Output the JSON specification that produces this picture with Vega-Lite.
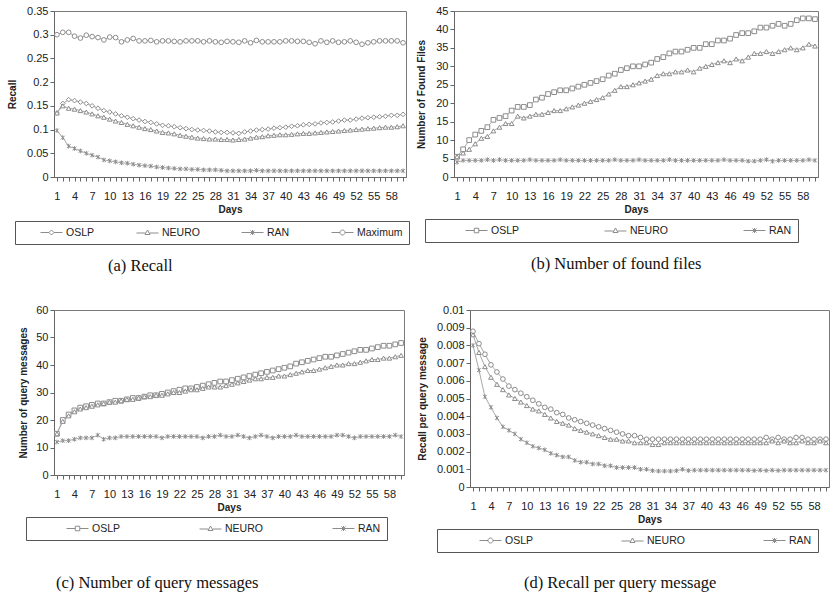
{
"$schema": "https://vega.github.io/schema/vega-lite/v6.json",
"padding": {"left": 7, "top": 4, "right": 2, "bottom": 2},
"background": "white",
"datasets": {
"a": [
{"d":1,"s":"OSLP","v":0.135},{"d":2,"s":"OSLP","v":0.155},{"d":3,"s":"OSLP","v":0.163},{"d":4,"s":"OSLP","v":0.161},{"d":5,"s":"OSLP","v":0.158},{"d":6,"s":"OSLP","v":0.155},{"d":7,"s":"OSLP","v":0.150},{"d":8,"s":"OSLP","v":0.145},{"d":9,"s":"OSLP","v":0.140},{"d":10,"s":"OSLP","v":0.137},
{"d":11,"s":"OSLP","v":0.133},{"d":12,"s":"OSLP","v":0.129},{"d":13,"s":"OSLP","v":0.126},{"d":14,"s":"OSLP","v":0.123},{"d":15,"s":"OSLP","v":0.120},{"d":16,"s":"OSLP","v":0.117},{"d":17,"s":"OSLP","v":0.115},{"d":18,"s":"OSLP","v":0.112},{"d":19,"s":"OSLP","v":0.109},{"d":20,"s":"OSLP","v":0.108},
{"d":21,"s":"OSLP","v":0.106},{"d":22,"s":"OSLP","v":0.104},{"d":23,"s":"OSLP","v":0.102},{"d":24,"s":"OSLP","v":0.100},{"d":25,"s":"OSLP","v":0.099},{"d":26,"s":"OSLP","v":0.098},{"d":27,"s":"OSLP","v":0.097},{"d":28,"s":"OSLP","v":0.095},{"d":29,"s":"OSLP","v":0.094},{"d":30,"s":"OSLP","v":0.094},
{"d":31,"s":"OSLP","v":0.093},{"d":32,"s":"OSLP","v":0.092},{"d":33,"s":"OSLP","v":0.095},{"d":34,"s":"OSLP","v":0.097},{"d":35,"s":"OSLP","v":0.099},{"d":36,"s":"OSLP","v":0.100},{"d":37,"s":"OSLP","v":0.101},{"d":38,"s":"OSLP","v":0.103},{"d":39,"s":"OSLP","v":0.104},{"d":40,"s":"OSLP","v":0.105},
{"d":41,"s":"OSLP","v":0.107},{"d":42,"s":"OSLP","v":0.108},{"d":43,"s":"OSLP","v":0.110},{"d":44,"s":"OSLP","v":0.111},{"d":45,"s":"OSLP","v":0.112},{"d":46,"s":"OSLP","v":0.114},{"d":47,"s":"OSLP","v":0.115},{"d":48,"s":"OSLP","v":0.116},{"d":49,"s":"OSLP","v":0.118},{"d":50,"s":"OSLP","v":0.120},
{"d":51,"s":"OSLP","v":0.120},{"d":52,"s":"OSLP","v":0.122},{"d":53,"s":"OSLP","v":0.124},{"d":54,"s":"OSLP","v":0.125},{"d":55,"s":"OSLP","v":0.126},{"d":56,"s":"OSLP","v":0.127},{"d":57,"s":"OSLP","v":0.128},{"d":58,"s":"OSLP","v":0.130},{"d":59,"s":"OSLP","v":0.130},{"d":60,"s":"OSLP","v":0.132},
{"d":1,"s":"NEURO","v":0.135},{"d":2,"s":"NEURO","v":0.150},{"d":3,"s":"NEURO","v":0.145},{"d":4,"s":"NEURO","v":0.143},{"d":5,"s":"NEURO","v":0.140},{"d":6,"s":"NEURO","v":0.137},{"d":7,"s":"NEURO","v":0.133},{"d":8,"s":"NEURO","v":0.129},{"d":9,"s":"NEURO","v":0.126},{"d":10,"s":"NEURO","v":0.122},
{"d":11,"s":"NEURO","v":0.118},{"d":12,"s":"NEURO","v":0.115},{"d":13,"s":"NEURO","v":0.111},{"d":14,"s":"NEURO","v":0.108},{"d":15,"s":"NEURO","v":0.105},{"d":16,"s":"NEURO","v":0.102},{"d":17,"s":"NEURO","v":0.100},{"d":18,"s":"NEURO","v":0.097},{"d":19,"s":"NEURO","v":0.094},{"d":20,"s":"NEURO","v":0.093},
{"d":21,"s":"NEURO","v":0.091},{"d":22,"s":"NEURO","v":0.088},{"d":23,"s":"NEURO","v":0.086},{"d":24,"s":"NEURO","v":0.084},{"d":25,"s":"NEURO","v":0.082},{"d":26,"s":"NEURO","v":0.081},{"d":27,"s":"NEURO","v":0.080},{"d":28,"s":"NEURO","v":0.080},{"d":29,"s":"NEURO","v":0.079},{"d":30,"s":"NEURO","v":0.079},
{"d":31,"s":"NEURO","v":0.078},{"d":32,"s":"NEURO","v":0.079},{"d":33,"s":"NEURO","v":0.080},{"d":34,"s":"NEURO","v":0.082},{"d":35,"s":"NEURO","v":0.084},{"d":36,"s":"NEURO","v":0.085},{"d":37,"s":"NEURO","v":0.087},{"d":38,"s":"NEURO","v":0.088},{"d":39,"s":"NEURO","v":0.089},{"d":40,"s":"NEURO","v":0.089},
{"d":41,"s":"NEURO","v":0.090},{"d":42,"s":"NEURO","v":0.091},{"d":43,"s":"NEURO","v":0.092},{"d":44,"s":"NEURO","v":0.092},{"d":45,"s":"NEURO","v":0.093},{"d":46,"s":"NEURO","v":0.094},{"d":47,"s":"NEURO","v":0.095},{"d":48,"s":"NEURO","v":0.096},{"d":49,"s":"NEURO","v":0.097},{"d":50,"s":"NEURO","v":0.098},
{"d":51,"s":"NEURO","v":0.099},{"d":52,"s":"NEURO","v":0.100},{"d":53,"s":"NEURO","v":0.101},{"d":54,"s":"NEURO","v":0.102},{"d":55,"s":"NEURO","v":0.103},{"d":56,"s":"NEURO","v":0.104},{"d":57,"s":"NEURO","v":0.105},{"d":58,"s":"NEURO","v":0.105},{"d":59,"s":"NEURO","v":0.106},{"d":60,"s":"NEURO","v":0.108},
{"d":1,"s":"RAN","v":0.098},{"d":2,"s":"RAN","v":0.083},{"d":3,"s":"RAN","v":0.065},{"d":4,"s":"RAN","v":0.060},{"d":5,"s":"RAN","v":0.055},{"d":6,"s":"RAN","v":0.050},{"d":7,"s":"RAN","v":0.046},{"d":8,"s":"RAN","v":0.042},{"d":9,"s":"RAN","v":0.036},{"d":10,"s":"RAN","v":0.034},
{"d":11,"s":"RAN","v":0.032},{"d":12,"s":"RAN","v":0.030},{"d":13,"s":"RAN","v":0.029},{"d":14,"s":"RAN","v":0.027},{"d":15,"s":"RAN","v":0.025},{"d":16,"s":"RAN","v":0.024},{"d":17,"s":"RAN","v":0.023},{"d":18,"s":"RAN","v":0.021},{"d":19,"s":"RAN","v":0.020},{"d":20,"s":"RAN","v":0.019},
{"d":21,"s":"RAN","v":0.018},{"d":22,"s":"RAN","v":0.017},{"d":23,"s":"RAN","v":0.017},{"d":24,"s":"RAN","v":0.016},{"d":25,"s":"RAN","v":0.016},{"d":26,"s":"RAN","v":0.015},{"d":27,"s":"RAN","v":0.015},{"d":28,"s":"RAN","v":0.015},{"d":29,"s":"RAN","v":0.014},{"d":30,"s":"RAN","v":0.013},
{"d":31,"s":"RAN","v":0.013},{"d":32,"s":"RAN","v":0.013},{"d":33,"s":"RAN","v":0.013},{"d":34,"s":"RAN","v":0.013},{"d":35,"s":"RAN","v":0.014},{"d":36,"s":"RAN","v":0.013},{"d":37,"s":"RAN","v":0.013},{"d":38,"s":"RAN","v":0.013},{"d":39,"s":"RAN","v":0.013},{"d":40,"s":"RAN","v":0.013},
{"d":41,"s":"RAN","v":0.013},{"d":42,"s":"RAN","v":0.013},{"d":43,"s":"RAN","v":0.013},{"d":44,"s":"RAN","v":0.013},{"d":45,"s":"RAN","v":0.013},{"d":46,"s":"RAN","v":0.013},{"d":47,"s":"RAN","v":0.013},{"d":48,"s":"RAN","v":0.013},{"d":49,"s":"RAN","v":0.013},{"d":50,"s":"RAN","v":0.013},
{"d":51,"s":"RAN","v":0.013},{"d":52,"s":"RAN","v":0.013},{"d":53,"s":"RAN","v":0.013},{"d":54,"s":"RAN","v":0.013},{"d":55,"s":"RAN","v":0.013},{"d":56,"s":"RAN","v":0.013},{"d":57,"s":"RAN","v":0.013},{"d":58,"s":"RAN","v":0.013},{"d":59,"s":"RAN","v":0.013},{"d":60,"s":"RAN","v":0.013},
{"d":1,"s":"Maximum","v":0.300},{"d":2,"s":"Maximum","v":0.305},{"d":3,"s":"Maximum","v":0.305},{"d":4,"s":"Maximum","v":0.297},{"d":5,"s":"Maximum","v":0.293},{"d":6,"s":"Maximum","v":0.299},{"d":7,"s":"Maximum","v":0.296},{"d":8,"s":"Maximum","v":0.294},{"d":9,"s":"Maximum","v":0.289},{"d":10,"s":"Maximum","v":0.295},
{"d":11,"s":"Maximum","v":0.294},{"d":12,"s":"Maximum","v":0.285},{"d":13,"s":"Maximum","v":0.289},{"d":14,"s":"Maximum","v":0.292},{"d":15,"s":"Maximum","v":0.287},{"d":16,"s":"Maximum","v":0.287},{"d":17,"s":"Maximum","v":0.288},{"d":18,"s":"Maximum","v":0.285},{"d":19,"s":"Maximum","v":0.287},{"d":20,"s":"Maximum","v":0.287},
{"d":21,"s":"Maximum","v":0.286},{"d":22,"s":"Maximum","v":0.285},{"d":23,"s":"Maximum","v":0.287},{"d":24,"s":"Maximum","v":0.287},{"d":25,"s":"Maximum","v":0.287},{"d":26,"s":"Maximum","v":0.285},{"d":27,"s":"Maximum","v":0.287},{"d":28,"s":"Maximum","v":0.285},{"d":29,"s":"Maximum","v":0.284},{"d":30,"s":"Maximum","v":0.286},
{"d":31,"s":"Maximum","v":0.285},{"d":32,"s":"Maximum","v":0.284},{"d":33,"s":"Maximum","v":0.287},{"d":34,"s":"Maximum","v":0.283},{"d":35,"s":"Maximum","v":0.288},{"d":36,"s":"Maximum","v":0.285},{"d":37,"s":"Maximum","v":0.285},{"d":38,"s":"Maximum","v":0.285},{"d":39,"s":"Maximum","v":0.285},{"d":40,"s":"Maximum","v":0.287},
{"d":41,"s":"Maximum","v":0.287},{"d":42,"s":"Maximum","v":0.286},{"d":43,"s":"Maximum","v":0.286},{"d":44,"s":"Maximum","v":0.284},{"d":45,"s":"Maximum","v":0.281},{"d":46,"s":"Maximum","v":0.287},{"d":47,"s":"Maximum","v":0.284},{"d":48,"s":"Maximum","v":0.287},{"d":49,"s":"Maximum","v":0.284},{"d":50,"s":"Maximum","v":0.285},
{"d":51,"s":"Maximum","v":0.287},{"d":52,"s":"Maximum","v":0.284},{"d":53,"s":"Maximum","v":0.280},{"d":54,"s":"Maximum","v":0.283},{"d":55,"s":"Maximum","v":0.285},{"d":56,"s":"Maximum","v":0.287},{"d":57,"s":"Maximum","v":0.287},{"d":58,"s":"Maximum","v":0.287},{"d":59,"s":"Maximum","v":0.287},{"d":60,"s":"Maximum","v":0.283}
],
"b": [
{"d":1,"s":"OSLP","v":5.5},{"d":2,"s":"OSLP","v":7.5},{"d":3,"s":"OSLP","v":10},{"d":4,"s":"OSLP","v":11.5},{"d":5,"s":"OSLP","v":12.5},{"d":6,"s":"OSLP","v":13.5},{"d":7,"s":"OSLP","v":15.5},{"d":8,"s":"OSLP","v":16},{"d":9,"s":"OSLP","v":16.5},{"d":10,"s":"OSLP","v":18},
{"d":11,"s":"OSLP","v":19},{"d":12,"s":"OSLP","v":19},{"d":13,"s":"OSLP","v":19.5},{"d":14,"s":"OSLP","v":21},{"d":15,"s":"OSLP","v":21.5},{"d":16,"s":"OSLP","v":22.5},{"d":17,"s":"OSLP","v":23},{"d":18,"s":"OSLP","v":23.5},{"d":19,"s":"OSLP","v":23.5},{"d":20,"s":"OSLP","v":24},
{"d":21,"s":"OSLP","v":24.5},{"d":22,"s":"OSLP","v":25},{"d":23,"s":"OSLP","v":25.5},{"d":24,"s":"OSLP","v":26},{"d":25,"s":"OSLP","v":26.5},{"d":26,"s":"OSLP","v":27.5},{"d":27,"s":"OSLP","v":28},{"d":28,"s":"OSLP","v":29},{"d":29,"s":"OSLP","v":29.5},{"d":30,"s":"OSLP","v":30},
{"d":31,"s":"OSLP","v":30},{"d":32,"s":"OSLP","v":30.5},{"d":33,"s":"OSLP","v":31},{"d":34,"s":"OSLP","v":32},{"d":35,"s":"OSLP","v":32.5},{"d":36,"s":"OSLP","v":33.5},{"d":37,"s":"OSLP","v":34},{"d":38,"s":"OSLP","v":34},{"d":39,"s":"OSLP","v":34.5},{"d":40,"s":"OSLP","v":35},
{"d":41,"s":"OSLP","v":35},{"d":42,"s":"OSLP","v":36},{"d":43,"s":"OSLP","v":36},{"d":44,"s":"OSLP","v":37},{"d":45,"s":"OSLP","v":37},{"d":46,"s":"OSLP","v":37.5},{"d":47,"s":"OSLP","v":38.5},{"d":48,"s":"OSLP","v":39},{"d":49,"s":"OSLP","v":39},{"d":50,"s":"OSLP","v":39.5},
{"d":51,"s":"OSLP","v":40.5},{"d":52,"s":"OSLP","v":40.5},{"d":53,"s":"OSLP","v":41},{"d":54,"s":"OSLP","v":41.5},{"d":55,"s":"OSLP","v":41},{"d":56,"s":"OSLP","v":41.5},{"d":57,"s":"OSLP","v":42.5},{"d":58,"s":"OSLP","v":43},{"d":59,"s":"OSLP","v":43},{"d":60,"s":"OSLP","v":42.8},
{"d":1,"s":"NEURO","v":5.5},{"d":2,"s":"NEURO","v":6.5},{"d":3,"s":"NEURO","v":7.5},{"d":4,"s":"NEURO","v":9},{"d":5,"s":"NEURO","v":10.5},{"d":6,"s":"NEURO","v":11},{"d":7,"s":"NEURO","v":12.5},{"d":8,"s":"NEURO","v":13.5},{"d":9,"s":"NEURO","v":14.5},{"d":10,"s":"NEURO","v":14.5},
{"d":11,"s":"NEURO","v":16.5},{"d":12,"s":"NEURO","v":16},{"d":13,"s":"NEURO","v":16.5},{"d":14,"s":"NEURO","v":17},{"d":15,"s":"NEURO","v":17},{"d":16,"s":"NEURO","v":17.5},{"d":17,"s":"NEURO","v":18},{"d":18,"s":"NEURO","v":18},{"d":19,"s":"NEURO","v":18.5},{"d":20,"s":"NEURO","v":19},
{"d":21,"s":"NEURO","v":19.5},{"d":22,"s":"NEURO","v":20},{"d":23,"s":"NEURO","v":20.5},{"d":24,"s":"NEURO","v":21},{"d":25,"s":"NEURO","v":21.5},{"d":26,"s":"NEURO","v":22.5},{"d":27,"s":"NEURO","v":23.5},{"d":28,"s":"NEURO","v":24.5},{"d":29,"s":"NEURO","v":24.5},{"d":30,"s":"NEURO","v":25},
{"d":31,"s":"NEURO","v":25.5},{"d":32,"s":"NEURO","v":26},{"d":33,"s":"NEURO","v":26.5},{"d":34,"s":"NEURO","v":27.5},{"d":35,"s":"NEURO","v":28},{"d":36,"s":"NEURO","v":28},{"d":37,"s":"NEURO","v":28.5},{"d":38,"s":"NEURO","v":28.5},{"d":39,"s":"NEURO","v":29},{"d":40,"s":"NEURO","v":28.5},
{"d":41,"s":"NEURO","v":29.5},{"d":42,"s":"NEURO","v":30},{"d":43,"s":"NEURO","v":30.5},{"d":44,"s":"NEURO","v":31},{"d":45,"s":"NEURO","v":31.5},{"d":46,"s":"NEURO","v":31},{"d":47,"s":"NEURO","v":32},{"d":48,"s":"NEURO","v":31.5},{"d":49,"s":"NEURO","v":32.5},{"d":50,"s":"NEURO","v":33.5},
{"d":51,"s":"NEURO","v":33.5},{"d":52,"s":"NEURO","v":34},{"d":53,"s":"NEURO","v":33.5},{"d":54,"s":"NEURO","v":34},{"d":55,"s":"NEURO","v":34.5},{"d":56,"s":"NEURO","v":35},{"d":57,"s":"NEURO","v":34.5},{"d":58,"s":"NEURO","v":35},{"d":59,"s":"NEURO","v":36},{"d":60,"s":"NEURO","v":35.5},
{"d":1,"s":"RAN","v":4},{"d":2,"s":"RAN","v":4.5},{"d":3,"s":"RAN","v":4.5},{"d":4,"s":"RAN","v":4.5},{"d":5,"s":"RAN","v":4.5},{"d":6,"s":"RAN","v":4.7},{"d":7,"s":"RAN","v":4.5},{"d":8,"s":"RAN","v":4.7},{"d":9,"s":"RAN","v":4.5},{"d":10,"s":"RAN","v":4.5},
{"d":11,"s":"RAN","v":4.5},{"d":12,"s":"RAN","v":4.5},{"d":13,"s":"RAN","v":4.7},{"d":14,"s":"RAN","v":4.5},{"d":15,"s":"RAN","v":4.5},{"d":16,"s":"RAN","v":4.5},{"d":17,"s":"RAN","v":4.5},{"d":18,"s":"RAN","v":4.7},{"d":19,"s":"RAN","v":4.5},{"d":20,"s":"RAN","v":4.5},
{"d":21,"s":"RAN","v":4.5},{"d":22,"s":"RAN","v":4.5},{"d":23,"s":"RAN","v":4.5},{"d":24,"s":"RAN","v":4.5},{"d":25,"s":"RAN","v":4.5},{"d":26,"s":"RAN","v":4.5},{"d":27,"s":"RAN","v":4.7},{"d":28,"s":"RAN","v":4.5},{"d":29,"s":"RAN","v":4.5},{"d":30,"s":"RAN","v":4.5},
{"d":31,"s":"RAN","v":4.7},{"d":32,"s":"RAN","v":4.5},{"d":33,"s":"RAN","v":4.5},{"d":34,"s":"RAN","v":4.5},{"d":35,"s":"RAN","v":4.5},{"d":36,"s":"RAN","v":4.7},{"d":37,"s":"RAN","v":4.5},{"d":38,"s":"RAN","v":4.5},{"d":39,"s":"RAN","v":4.5},{"d":40,"s":"RAN","v":4.5},
{"d":41,"s":"RAN","v":4.5},{"d":42,"s":"RAN","v":4.5},{"d":43,"s":"RAN","v":4.5},{"d":44,"s":"RAN","v":4.5},{"d":45,"s":"RAN","v":4.7},{"d":46,"s":"RAN","v":4.5},{"d":47,"s":"RAN","v":4.5},{"d":48,"s":"RAN","v":4.5},{"d":49,"s":"RAN","v":4.3},{"d":50,"s":"RAN","v":4.3},
{"d":51,"s":"RAN","v":4.5},{"d":52,"s":"RAN","v":4.7},{"d":53,"s":"RAN","v":4.3},{"d":54,"s":"RAN","v":4.5},{"d":55,"s":"RAN","v":4.5},{"d":56,"s":"RAN","v":4.5},{"d":57,"s":"RAN","v":4.5},{"d":58,"s":"RAN","v":4.5},{"d":59,"s":"RAN","v":4.7},{"d":60,"s":"RAN","v":4.5}
],
"c": [
{"d":1,"s":"OSLP","v":15},{"d":2,"s":"OSLP","v":20},{"d":3,"s":"OSLP","v":22},{"d":4,"s":"OSLP","v":23.5},{"d":5,"s":"OSLP","v":24.5},{"d":6,"s":"OSLP","v":25},{"d":7,"s":"OSLP","v":25.5},{"d":8,"s":"OSLP","v":26},{"d":9,"s":"OSLP","v":26},{"d":10,"s":"OSLP","v":26.5},
{"d":11,"s":"OSLP","v":27},{"d":12,"s":"OSLP","v":27},{"d":13,"s":"OSLP","v":27.5},{"d":14,"s":"OSLP","v":28},{"d":15,"s":"OSLP","v":28},{"d":16,"s":"OSLP","v":28.5},{"d":17,"s":"OSLP","v":29},{"d":18,"s":"OSLP","v":29},{"d":19,"s":"OSLP","v":29.5},{"d":20,"s":"OSLP","v":30},
{"d":21,"s":"OSLP","v":30.5},{"d":22,"s":"OSLP","v":31},{"d":23,"s":"OSLP","v":31.5},{"d":24,"s":"OSLP","v":31.5},{"d":25,"s":"OSLP","v":32},{"d":26,"s":"OSLP","v":32.5},{"d":27,"s":"OSLP","v":33},{"d":28,"s":"OSLP","v":33.5},{"d":29,"s":"OSLP","v":34},{"d":30,"s":"OSLP","v":34},
{"d":31,"s":"OSLP","v":34.5},{"d":32,"s":"OSLP","v":35},{"d":33,"s":"OSLP","v":35.5},{"d":34,"s":"OSLP","v":36},{"d":35,"s":"OSLP","v":36.5},{"d":36,"s":"OSLP","v":37},{"d":37,"s":"OSLP","v":37.5},{"d":38,"s":"OSLP","v":38},{"d":39,"s":"OSLP","v":38.5},{"d":40,"s":"OSLP","v":39},
{"d":41,"s":"OSLP","v":39.5},{"d":42,"s":"OSLP","v":40.5},{"d":43,"s":"OSLP","v":41},{"d":44,"s":"OSLP","v":41.5},{"d":45,"s":"OSLP","v":42},{"d":46,"s":"OSLP","v":42.5},{"d":47,"s":"OSLP","v":43},{"d":48,"s":"OSLP","v":43},{"d":49,"s":"OSLP","v":43.5},{"d":50,"s":"OSLP","v":44},
{"d":51,"s":"OSLP","v":44.5},{"d":52,"s":"OSLP","v":45},{"d":53,"s":"OSLP","v":45.5},{"d":54,"s":"OSLP","v":45.5},{"d":55,"s":"OSLP","v":46},{"d":56,"s":"OSLP","v":46.5},{"d":57,"s":"OSLP","v":47},{"d":58,"s":"OSLP","v":47},{"d":59,"s":"OSLP","v":47.5},{"d":60,"s":"OSLP","v":48},
{"d":1,"s":"NEURO","v":15},{"d":2,"s":"NEURO","v":19.5},{"d":3,"s":"NEURO","v":21.5},{"d":4,"s":"NEURO","v":23},{"d":5,"s":"NEURO","v":24},{"d":6,"s":"NEURO","v":24.5},{"d":7,"s":"NEURO","v":25},{"d":8,"s":"NEURO","v":25.5},{"d":9,"s":"NEURO","v":26},{"d":10,"s":"NEURO","v":26.5},
{"d":11,"s":"NEURO","v":26.5},{"d":12,"s":"NEURO","v":27},{"d":13,"s":"NEURO","v":27.5},{"d":14,"s":"NEURO","v":27.5},{"d":15,"s":"NEURO","v":28},{"d":16,"s":"NEURO","v":28.5},{"d":17,"s":"NEURO","v":28.5},{"d":18,"s":"NEURO","v":29},{"d":19,"s":"NEURO","v":29},{"d":20,"s":"NEURO","v":29.5},
{"d":21,"s":"NEURO","v":30},{"d":22,"s":"NEURO","v":30},{"d":23,"s":"NEURO","v":30.5},{"d":24,"s":"NEURO","v":31},{"d":25,"s":"NEURO","v":31},{"d":26,"s":"NEURO","v":31.5},{"d":27,"s":"NEURO","v":32},{"d":28,"s":"NEURO","v":32},{"d":29,"s":"NEURO","v":32},{"d":30,"s":"NEURO","v":32.5},
{"d":31,"s":"NEURO","v":33},{"d":32,"s":"NEURO","v":33.5},{"d":33,"s":"NEURO","v":34},{"d":34,"s":"NEURO","v":34.5},{"d":35,"s":"NEURO","v":35},{"d":36,"s":"NEURO","v":35},{"d":37,"s":"NEURO","v":35.5},{"d":38,"s":"NEURO","v":35.5},{"d":39,"s":"NEURO","v":36},{"d":40,"s":"NEURO","v":36},
{"d":41,"s":"NEURO","v":36.5},{"d":42,"s":"NEURO","v":37},{"d":43,"s":"NEURO","v":37.5},{"d":44,"s":"NEURO","v":38},{"d":45,"s":"NEURO","v":38},{"d":46,"s":"NEURO","v":38.5},{"d":47,"s":"NEURO","v":39},{"d":48,"s":"NEURO","v":39.5},{"d":49,"s":"NEURO","v":40},{"d":50,"s":"NEURO","v":40},
{"d":51,"s":"NEURO","v":40.5},{"d":52,"s":"NEURO","v":40.5},{"d":53,"s":"NEURO","v":41},{"d":54,"s":"NEURO","v":41.5},{"d":55,"s":"NEURO","v":42},{"d":56,"s":"NEURO","v":42},{"d":57,"s":"NEURO","v":42.5},{"d":58,"s":"NEURO","v":42.5},{"d":59,"s":"NEURO","v":43},{"d":60,"s":"NEURO","v":43.5},
{"d":1,"s":"RAN","v":12},{"d":2,"s":"RAN","v":12.5},{"d":3,"s":"RAN","v":12.5},{"d":4,"s":"RAN","v":13},{"d":5,"s":"RAN","v":13.5},{"d":6,"s":"RAN","v":13.5},{"d":7,"s":"RAN","v":13.5},{"d":8,"s":"RAN","v":14.5},{"d":9,"s":"RAN","v":13},{"d":10,"s":"RAN","v":13.5},
{"d":11,"s":"RAN","v":13.5},{"d":12,"s":"RAN","v":14},{"d":13,"s":"RAN","v":14},{"d":14,"s":"RAN","v":14},{"d":15,"s":"RAN","v":14},{"d":16,"s":"RAN","v":14},{"d":17,"s":"RAN","v":14},{"d":18,"s":"RAN","v":14},{"d":19,"s":"RAN","v":13.5},{"d":20,"s":"RAN","v":14},
{"d":21,"s":"RAN","v":14},{"d":22,"s":"RAN","v":14},{"d":23,"s":"RAN","v":14},{"d":24,"s":"RAN","v":14},{"d":25,"s":"RAN","v":14},{"d":26,"s":"RAN","v":13.5},{"d":27,"s":"RAN","v":14},{"d":28,"s":"RAN","v":14},{"d":29,"s":"RAN","v":14.5},{"d":30,"s":"RAN","v":14},
{"d":31,"s":"RAN","v":14},{"d":32,"s":"RAN","v":14.5},{"d":33,"s":"RAN","v":14},{"d":34,"s":"RAN","v":13.5},{"d":35,"s":"RAN","v":14},{"d":36,"s":"RAN","v":14.5},{"d":37,"s":"RAN","v":14},{"d":38,"s":"RAN","v":13.5},{"d":39,"s":"RAN","v":14},{"d":40,"s":"RAN","v":14},
{"d":41,"s":"RAN","v":14},{"d":42,"s":"RAN","v":14.5},{"d":43,"s":"RAN","v":14},{"d":44,"s":"RAN","v":14},{"d":45,"s":"RAN","v":14},{"d":46,"s":"RAN","v":14},{"d":47,"s":"RAN","v":14},{"d":48,"s":"RAN","v":14},{"d":49,"s":"RAN","v":14.5},{"d":50,"s":"RAN","v":14.5},
{"d":51,"s":"RAN","v":14},{"d":52,"s":"RAN","v":13.5},{"d":53,"s":"RAN","v":14},{"d":54,"s":"RAN","v":14},{"d":55,"s":"RAN","v":14},{"d":56,"s":"RAN","v":14},{"d":57,"s":"RAN","v":14},{"d":58,"s":"RAN","v":14},{"d":59,"s":"RAN","v":14.5},{"d":60,"s":"RAN","v":14}
],
"dd": [
{"d":1,"s":"OSLP","v":0.0088},{"d":2,"s":"OSLP","v":0.0081},{"d":3,"s":"OSLP","v":0.0075},{"d":4,"s":"OSLP","v":0.0069},{"d":5,"s":"OSLP","v":0.0065},{"d":6,"s":"OSLP","v":0.0061},{"d":7,"s":"OSLP","v":0.0057},{"d":8,"s":"OSLP","v":0.0055},{"d":9,"s":"OSLP","v":0.0053},{"d":10,"s":"OSLP","v":0.0051},
{"d":11,"s":"OSLP","v":0.0049},{"d":12,"s":"OSLP","v":0.0047},{"d":13,"s":"OSLP","v":0.0045},{"d":14,"s":"OSLP","v":0.0044},{"d":15,"s":"OSLP","v":0.0042},{"d":16,"s":"OSLP","v":0.0041},{"d":17,"s":"OSLP","v":0.0039},{"d":18,"s":"OSLP","v":0.0038},{"d":19,"s":"OSLP","v":0.0037},{"d":20,"s":"OSLP","v":0.0036},
{"d":21,"s":"OSLP","v":0.0035},{"d":22,"s":"OSLP","v":0.0034},{"d":23,"s":"OSLP","v":0.0033},{"d":24,"s":"OSLP","v":0.0032},{"d":25,"s":"OSLP","v":0.0031},{"d":26,"s":"OSLP","v":0.0030},{"d":27,"s":"OSLP","v":0.0029},{"d":28,"s":"OSLP","v":0.0029},{"d":29,"s":"OSLP","v":0.0028},{"d":30,"s":"OSLP","v":0.0027},
{"d":31,"s":"OSLP","v":0.0027},{"d":32,"s":"OSLP","v":0.0027},{"d":33,"s":"OSLP","v":0.0027},{"d":34,"s":"OSLP","v":0.0027},{"d":35,"s":"OSLP","v":0.0027},{"d":36,"s":"OSLP","v":0.0027},{"d":37,"s":"OSLP","v":0.0027},{"d":38,"s":"OSLP","v":0.0027},{"d":39,"s":"OSLP","v":0.0027},{"d":40,"s":"OSLP","v":0.0027},
{"d":41,"s":"OSLP","v":0.0027},{"d":42,"s":"OSLP","v":0.0027},{"d":43,"s":"OSLP","v":0.0027},{"d":44,"s":"OSLP","v":0.0027},{"d":45,"s":"OSLP","v":0.0027},{"d":46,"s":"OSLP","v":0.0027},{"d":47,"s":"OSLP","v":0.0027},{"d":48,"s":"OSLP","v":0.0027},{"d":49,"s":"OSLP","v":0.0027},{"d":50,"s":"OSLP","v":0.0028},
{"d":51,"s":"OSLP","v":0.0027},{"d":52,"s":"OSLP","v":0.0028},{"d":53,"s":"OSLP","v":0.0027},{"d":54,"s":"OSLP","v":0.0027},{"d":55,"s":"OSLP","v":0.0028},{"d":56,"s":"OSLP","v":0.0028},{"d":57,"s":"OSLP","v":0.0027},{"d":58,"s":"OSLP","v":0.0027},{"d":59,"s":"OSLP","v":0.0027},{"d":60,"s":"OSLP","v":0.0027},
{"d":1,"s":"NEURO","v":0.0086},{"d":2,"s":"NEURO","v":0.0076},{"d":3,"s":"NEURO","v":0.0068},{"d":4,"s":"NEURO","v":0.0062},{"d":5,"s":"NEURO","v":0.0058},{"d":6,"s":"NEURO","v":0.0055},{"d":7,"s":"NEURO","v":0.0052},{"d":8,"s":"NEURO","v":0.0050},{"d":9,"s":"NEURO","v":0.0048},{"d":10,"s":"NEURO","v":0.0046},
{"d":11,"s":"NEURO","v":0.0044},{"d":12,"s":"NEURO","v":0.0043},{"d":13,"s":"NEURO","v":0.0041},{"d":14,"s":"NEURO","v":0.0039},{"d":15,"s":"NEURO","v":0.0037},{"d":16,"s":"NEURO","v":0.0036},{"d":17,"s":"NEURO","v":0.0035},{"d":18,"s":"NEURO","v":0.0033},{"d":19,"s":"NEURO","v":0.0032},{"d":20,"s":"NEURO","v":0.0031},
{"d":21,"s":"NEURO","v":0.0030},{"d":22,"s":"NEURO","v":0.0029},{"d":23,"s":"NEURO","v":0.0028},{"d":24,"s":"NEURO","v":0.0027},{"d":25,"s":"NEURO","v":0.0027},{"d":26,"s":"NEURO","v":0.0026},{"d":27,"s":"NEURO","v":0.0026},{"d":28,"s":"NEURO","v":0.0025},{"d":29,"s":"NEURO","v":0.0025},{"d":30,"s":"NEURO","v":0.0025},
{"d":31,"s":"NEURO","v":0.0024},{"d":32,"s":"NEURO","v":0.0024},{"d":33,"s":"NEURO","v":0.0025},{"d":34,"s":"NEURO","v":0.0025},{"d":35,"s":"NEURO","v":0.0025},{"d":36,"s":"NEURO","v":0.0025},{"d":37,"s":"NEURO","v":0.0025},{"d":38,"s":"NEURO","v":0.0025},{"d":39,"s":"NEURO","v":0.0025},{"d":40,"s":"NEURO","v":0.0025},
{"d":41,"s":"NEURO","v":0.0025},{"d":42,"s":"NEURO","v":0.0025},{"d":43,"s":"NEURO","v":0.0025},{"d":44,"s":"NEURO","v":0.0025},{"d":45,"s":"NEURO","v":0.0025},{"d":46,"s":"NEURO","v":0.0025},{"d":47,"s":"NEURO","v":0.0025},{"d":48,"s":"NEURO","v":0.0025},{"d":49,"s":"NEURO","v":0.0025},{"d":50,"s":"NEURO","v":0.0025},
{"d":51,"s":"NEURO","v":0.0026},{"d":52,"s":"NEURO","v":0.0025},{"d":53,"s":"NEURO","v":0.0026},{"d":54,"s":"NEURO","v":0.0025},{"d":55,"s":"NEURO","v":0.0025},{"d":56,"s":"NEURO","v":0.0026},{"d":57,"s":"NEURO","v":0.0025},{"d":58,"s":"NEURO","v":0.0025},{"d":59,"s":"NEURO","v":0.0026},{"d":60,"s":"NEURO","v":0.0025},
{"d":1,"s":"RAN","v":0.0080},{"d":2,"s":"RAN","v":0.0066},{"d":3,"s":"RAN","v":0.0051},{"d":4,"s":"RAN","v":0.0045},{"d":5,"s":"RAN","v":0.0039},{"d":6,"s":"RAN","v":0.0034},{"d":7,"s":"RAN","v":0.0032},{"d":8,"s":"RAN","v":0.0030},{"d":9,"s":"RAN","v":0.0027},{"d":10,"s":"RAN","v":0.0025},
{"d":11,"s":"RAN","v":0.0023},{"d":12,"s":"RAN","v":0.0022},{"d":13,"s":"RAN","v":0.0021},{"d":14,"s":"RAN","v":0.0019},{"d":15,"s":"RAN","v":0.0018},{"d":16,"s":"RAN","v":0.0017},{"d":17,"s":"RAN","v":0.0017},{"d":18,"s":"RAN","v":0.0015},{"d":19,"s":"RAN","v":0.0014},{"d":20,"s":"RAN","v":0.0014},
{"d":21,"s":"RAN","v":0.0013},{"d":22,"s":"RAN","v":0.0013},{"d":23,"s":"RAN","v":0.0012},{"d":24,"s":"RAN","v":0.0012},{"d":25,"s":"RAN","v":0.0011},{"d":26,"s":"RAN","v":0.0011},{"d":27,"s":"RAN","v":0.0011},{"d":28,"s":"RAN","v":0.0011},{"d":29,"s":"RAN","v":0.0010},{"d":30,"s":"RAN","v":0.0010},
{"d":31,"s":"RAN","v":0.00092},{"d":32,"s":"RAN","v":0.0009},{"d":33,"s":"RAN","v":0.0009},{"d":34,"s":"RAN","v":0.0009},{"d":35,"s":"RAN","v":0.00092},{"d":36,"s":"RAN","v":0.001},{"d":37,"s":"RAN","v":0.00093},{"d":38,"s":"RAN","v":0.00095},{"d":39,"s":"RAN","v":0.00095},{"d":40,"s":"RAN","v":0.00095},
{"d":41,"s":"RAN","v":0.00095},{"d":42,"s":"RAN","v":0.00095},{"d":43,"s":"RAN","v":0.00095},{"d":44,"s":"RAN","v":0.00095},{"d":45,"s":"RAN","v":0.00095},{"d":46,"s":"RAN","v":0.00095},{"d":47,"s":"RAN","v":0.00095},{"d":48,"s":"RAN","v":0.00093},{"d":49,"s":"RAN","v":0.00095},{"d":50,"s":"RAN","v":0.00093},
{"d":51,"s":"RAN","v":0.00095},{"d":52,"s":"RAN","v":0.00093},{"d":53,"s":"RAN","v":0.00095},{"d":54,"s":"RAN","v":0.00095},{"d":55,"s":"RAN","v":0.00095},{"d":56,"s":"RAN","v":0.00095},{"d":57,"s":"RAN","v":0.00095},{"d":58,"s":"RAN","v":0.00095},{"d":59,"s":"RAN","v":0.00095},{"d":60,"s":"RAN","v":0.00095}
]
},
"config": {
"view": {"stroke": "#7a7a7a", "strokeWidth": 1},
"axis": {"grid": false, "domainColor": "#666", "tickColor": "#666", "tickSize": 4, "labelFont": "Liberation Sans", "labelFontSize": 11, "labelColor": "#222", "titleFont": "Liberation Sans", "titleFontSize": 10, "titleFontWeight": "bold", "titleColor": "#222", "labelFlush": false, "labelOverlap": false},
"axisX": {"labelPadding": 9, "titlePadding": 3, "labelAngle": 0},
"axisY": {"labelPadding": 2, "titlePadding": 9},
"legend": {"orient": "none", "direction": "horizontal", "labelFont": "Liberation Sans", "labelFontSize": 10.5, "labelColor": "#222", "strokeColor": "#555", "padding": 6, "symbolSize": 100, "labelOffset": 9, "symbolStrokeWidth": 1, "symbolStrokeColor": "#8c8c8c"},
"title": {"font": "Liberation Serif", "fontSize": 16.5, "fontWeight": "normal", "color": "#111", "orient": "bottom", "anchor": "start", "frame": "group", "offset": 13}
},
"spacing": 28,
"vconcat": [
{"hconcat": [
{
"width": 352, "height": 166,
"data": {"name": "a"},
"title": {"text": "(a) Recall", "dx": 54},
"encoding": {
"x": {"field": "d", "type": "quantitative", "scale": {"domain": [0.5, 60.5], "nice": false, "zero": false}, "axis": {"title": "Days", "values": [1,2,3,4,5,6,7,8,9,10,11,12,13,14,15,16,17,18,19,20,21,22,23,24,25,26,27,28,29,30,31,32,33,34,35,36,37,38,39,40,41,42,43,44,45,46,47,48,49,50,51,52,53,54,55,56,57,58,59,60], "labelExpr": "(datum.value - 1) % 3 === 0 ? datum.label : ''"}},
"y": {"field": "v", "type": "quantitative", "scale": {"domain": [0, 0.35], "nice": false}, "axis": {"title": "Recall", "values": [0, 0.05, 0.1, 0.15, 0.2, 0.25, 0.3, 0.35], "format": "~g"}}
},
"layer": [
{"mark": {"type": "line", "stroke": "#a8a8a8", "strokeWidth": 1}, "encoding": {"detail": {"field": "s"}}},
{"mark": {"type": "point", "filled": true, "fill": "white", "stroke": "#8c8c8c", "strokeWidth": 1, "size": 22, "opacity": 1}, "encoding": {"shape": {"field": "s", "scale": {"domain": ["OSLP", "NEURO", "RAN", "Maximum"], "range": ["diamond", "triangle-up", "M-0.8,-0.8L0.8,0.8M-0.8,0.8L0.8,-0.8M0,-1L0,1", "circle"]}, "legend": null}}},
{"transform": [{"filter": "datum.d < 0"}], "mark": {"type": "point", "filled": false, "color": "#8c8c8c", "strokeWidth": 1, "opacity": 1}, "encoding": {"shape": {"field": "s", "scale": {"domain": ["OSLP", "NEURO", "RAN", "Maximum"], "range": ["M-2.2,0H-0.5M0.5,0H2.2M0,-0.5L0.5,0L0,0.5L-0.5,0Z", "M-2.2,0.1H-0.45M0.45,0.1H2.2M0,-0.5L0.5,0.4L-0.5,0.4Z", "M-2.2,0H2.2M-0.4,-0.4L0.4,0.4M-0.4,0.4L0.4,-0.4M0,-0.5V0.5", "M-2.2,0H-0.5M0.5,0H2.2M0.5,0A0.5,0.5,0,1,1,-0.5,0A0.5,0.5,0,1,1,0.5,0Z"]}, "legend": {"title": null, "legendX": -39, "legendY": 210, "columns": 4, "columnPadding": 22, "gridAlign": "each", "symbolOffset": 25}}}}
],
"resolve": {"scale": {"shape": "independent"}}
},
{
"width": 364, "height": 166,
"data": {"name": "b"},
"title": {"text": "(b) Number of found files", "dx": 77},
"encoding": {
"x": {"field": "d", "type": "quantitative", "scale": {"domain": [0.5, 60.5], "nice": false, "zero": false}, "axis": {"title": "Days", "values": [1,2,3,4,5,6,7,8,9,10,11,12,13,14,15,16,17,18,19,20,21,22,23,24,25,26,27,28,29,30,31,32,33,34,35,36,37,38,39,40,41,42,43,44,45,46,47,48,49,50,51,52,53,54,55,56,57,58,59,60], "labelExpr": "(datum.value - 1) % 3 === 0 ? datum.label : ''"}},
"y": {"field": "v", "type": "quantitative", "scale": {"domain": [0, 45], "nice": false}, "axis": {"title": "Number of Found Files", "values": [0, 5, 10, 15, 20, 25, 30, 35, 40, 45]}}
},
"layer": [
{"mark": {"type": "line", "stroke": "#a8a8a8", "strokeWidth": 1}, "encoding": {"detail": {"field": "s"}}},
{"mark": {"type": "point", "filled": true, "fill": "white", "stroke": "#8c8c8c", "strokeWidth": 1, "size": 22, "opacity": 1}, "encoding": {"shape": {"field": "s", "scale": {"domain": ["OSLP", "NEURO", "RAN"], "range": ["square", "triangle-up", "M-0.8,-0.8L0.8,0.8M-0.8,0.8L0.8,-0.8M0,-1L0,1"]}, "legend": null}}},
{"transform": [{"filter": "datum.d < 0"}], "mark": {"type": "point", "filled": false, "color": "#8c8c8c", "strokeWidth": 1, "opacity": 1}, "encoding": {"shape": {"field": "s", "scale": {"domain": ["OSLP", "NEURO", "RAN"], "range": ["M-2.2,0H-0.45M0.45,0H2.2M-0.45,-0.45H0.45V0.45H-0.45Z", "M-2.2,0.1H-0.45M0.45,0.1H2.2M0,-0.5L0.5,0.4L-0.5,0.4Z", "M-2.2,0H2.2M-0.4,-0.4L0.4,0.4M-0.4,0.4L0.4,-0.4M0,-0.5V0.5"]}, "legend": {"title": null, "legendX": -29, "legendY": 208, "columns": 3, "columnPadding": 41, "gridAlign": "all", "symbolOffset": 40}}}}
],
"resolve": {"scale": {"shape": "independent"}}
}
], "spacing": 48, "bounds": "flush"},
{"hconcat": [
{
"width": 350, "height": 165,
"data": {"name": "c"},
"title": {"text": "(c) Number of query messages", "dx": 2, "offset": 34},
"encoding": {
"x": {"field": "d", "type": "quantitative", "scale": {"domain": [0.5, 60.5], "nice": false, "zero": false}, "axis": {"title": "Days", "values": [1,2,3,4,5,6,7,8,9,10,11,12,13,14,15,16,17,18,19,20,21,22,23,24,25,26,27,28,29,30,31,32,33,34,35,36,37,38,39,40,41,42,43,44,45,46,47,48,49,50,51,52,53,54,55,56,57,58,59,60], "labelExpr": "(datum.value - 1) % 3 === 0 ? datum.label : ''"}},
"y": {"field": "v", "type": "quantitative", "scale": {"domain": [0, 60], "nice": false}, "axis": {"title": "Number of query messages", "values": [0, 10, 20, 30, 40, 50, 60], "titlePadding": 7}}
},
"layer": [
{"mark": {"type": "line", "stroke": "#a8a8a8", "strokeWidth": 1}, "encoding": {"detail": {"field": "s"}}},
{"mark": {"type": "point", "filled": true, "fill": "white", "stroke": "#8c8c8c", "strokeWidth": 1, "size": 22, "opacity": 1}, "encoding": {"shape": {"field": "s", "scale": {"domain": ["OSLP", "NEURO", "RAN"], "range": ["square", "triangle-up", "M-0.8,-0.8L0.8,0.8M-0.8,0.8L0.8,-0.8M0,-1L0,1"]}, "legend": null}}},
{"transform": [{"filter": "datum.d < 0"}], "mark": {"type": "point", "filled": false, "color": "#8c8c8c", "strokeWidth": 1, "opacity": 1}, "encoding": {"shape": {"field": "s", "scale": {"domain": ["OSLP", "NEURO", "RAN"], "range": ["M-2.2,0H-0.45M0.45,0H2.2M-0.45,-0.45H0.45V0.45H-0.45Z", "M-2.2,0.1H-0.45M0.45,0.1H2.2M0,-0.5L0.5,0.4L-0.5,0.4Z", "M-2.2,0H2.2M-0.4,-0.4L0.4,0.4M-0.4,0.4L0.4,-0.4M0,-0.5V0.5"]}, "legend": {"title": null, "legendX": -28, "legendY": 207, "columns": 3, "columnPadding": 35, "gridAlign": "all", "symbolOffset": 40}}}}
],
"resolve": {"scale": {"shape": "independent"}}
},
{
"width": 359, "height": 177,
"data": {"name": "dd"},
"title": {"text": "(d) Recall per query message", "dx": 54, "offset": 22},
"encoding": {
"x": {"field": "d", "type": "quantitative", "scale": {"domain": [0.5, 60.5], "nice": false, "zero": false}, "axis": {"title": "Days", "values": [1,2,3,4,5,6,7,8,9,10,11,12,13,14,15,16,17,18,19,20,21,22,23,24,25,26,27,28,29,30,31,32,33,34,35,36,37,38,39,40,41,42,43,44,45,46,47,48,49,50,51,52,53,54,55,56,57,58,59,60], "labelExpr": "(datum.value - 1) % 3 === 0 ? datum.label : ''"}},
"y": {"field": "v", "type": "quantitative", "scale": {"domain": [0, 0.01], "nice": false}, "axis": {"title": "Recall per query message", "values": [0, 0.001, 0.002, 0.003, 0.004, 0.005, 0.006, 0.007, 0.008, 0.009, 0.01], "format": "~g"}}
},
"layer": [
{"mark": {"type": "line", "stroke": "#a8a8a8", "strokeWidth": 1}, "encoding": {"detail": {"field": "s"}}},
{"mark": {"type": "point", "filled": true, "fill": "white", "stroke": "#8c8c8c", "strokeWidth": 1, "size": 22, "opacity": 1}, "encoding": {"shape": {"field": "s", "scale": {"domain": ["OSLP", "NEURO", "RAN"], "range": ["circle", "triangle-up", "M-0.8,-0.8L0.8,0.8M-0.8,0.8L0.8,-0.8M0,-1L0,1"]}, "legend": null}}},
{"transform": [{"filter": "datum.d < 0"}], "mark": {"type": "point", "filled": false, "color": "#8c8c8c", "strokeWidth": 1, "opacity": 1}, "encoding": {"shape": {"field": "s", "scale": {"domain": ["OSLP", "NEURO", "RAN"], "range": ["M-2.2,0H-0.5M0.5,0H2.2M0.5,0A0.5,0.5,0,1,1,-0.5,0A0.5,0.5,0,1,1,0.5,0Z", "M-2.2,0.1H-0.45M0.45,0.1H2.2M0,-0.5L0.5,0.4L-0.5,0.4Z", "M-2.2,0H2.2M-0.4,-0.4L0.4,0.4M-0.4,0.4L0.4,-0.4M0,-0.5V0.5"]}, "legend": {"title": null, "legendX": -33, "legendY": 219, "columns": 3, "columnPadding": 42, "gridAlign": "all", "symbolOffset": 42}}}}
],
"resolve": {"scale": {"shape": "independent"}}
}
], "spacing": 66, "bounds": "flush"}
]
}
